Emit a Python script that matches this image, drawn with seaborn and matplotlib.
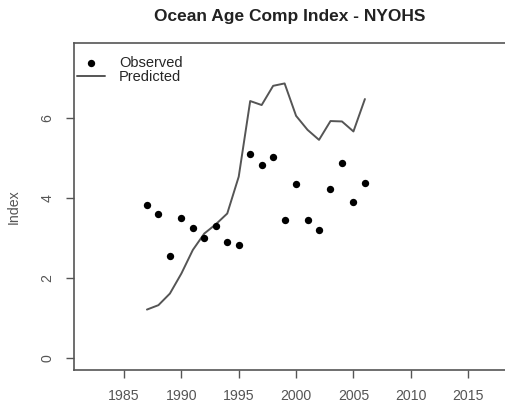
import matplotlib
matplotlib.use("Agg")
import matplotlib.pyplot as plt
import seaborn as sns
import pandas as pd

years = list(range(1987, 2007))
observed = [3.83, 3.60, 2.57, 3.51, 3.27, 3.00, 3.32, 2.90, 2.84, 5.11,
            4.84, 5.02, 3.46, 4.36, 3.47, 3.22, 4.24, 4.87, 3.90, 4.37]
predicted = [1.22, 1.33, 1.62, 2.12, 2.71, 3.12, 3.35, 3.62, 4.54, 6.43,
             6.33, 6.81, 6.87, 6.06, 5.71, 5.46, 5.93, 5.92, 5.67, 6.48]
x_ticks = [1985, 1990, 1995, 2000, 2005, 2010, 2015]
y_ticks = [0, 2, 4, 6]

df = pd.DataFrame({"Year": years, "Observed": observed, "Predicted": predicted})

sns.set_theme(style="ticks")
plt.rcParams['font.family'] = ['Liberation Sans', 'DejaVu Sans']

fig = plt.figure(figsize=(5.06, 4.11), dpi=100)
ax = fig.add_axes([74/506, 41/411, 432/506, 327/411])

sns.lineplot(data=df, x="Year", y="Predicted", ax=ax, color="#555555",
             linewidth=1.4, label="Predicted")
sns.scatterplot(data=df, x="Year", y="Observed", ax=ax, color="black",
                s=28, edgecolor="black", linewidth=0, label="Observed", zorder=3)

ax.set_xlim(1980.64, 2018.3)
ax.set_ylim(-0.29, 7.88)
ax.set_xticks(x_ticks)
ax.set_yticks(y_ticks)
ax.set_xticklabels([str(t) for t in x_ticks], fontsize=10.2, color="#555555")
ax.set_yticklabels([str(t) for t in y_ticks], fontsize=10.2, color="#555555",
                   rotation=90, va="center")
ax.tick_params(axis="both", length=6, width=1, color="#555555")
ax.tick_params(axis="x", pad=8)
ax.tick_params(axis="y", pad=8)
for s in ax.spines.values():
    s.set_visible(True)
    s.set_color("#555555")
    s.set_linewidth(1.2)
ax.set_xlabel("")
ax.set_ylabel("Index", fontsize=10.2, color="#555555", labelpad=14)

handles, labels = ax.get_legend_handles_labels()
order = [labels.index("Observed"), labels.index("Predicted")]
ax.legend([handles[i] for i in order], [labels[i] for i in order],
          loc="upper left", frameon=False, fontsize=10.5, handlelength=1.9,
          borderaxespad=0.0, borderpad=0.2, labelspacing=0.05, handletextpad=1.0,
          bbox_to_anchor=(0.0, 0.97))

fig.suptitle("Ocean Age Comp Index - NYOHS", x=290/506, y=1-17/411,
             va="center", fontsize=12.5, fontweight="bold", color="#222222")

fig.savefig("out.png", dpi=100, facecolor="white")
